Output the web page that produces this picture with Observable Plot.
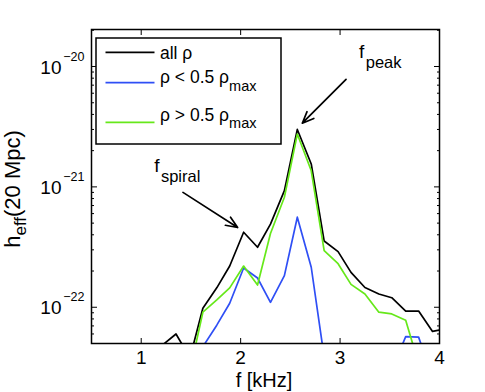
<!DOCTYPE html>
<html><head><meta charset="utf-8">
<script src="https://cdn.jsdelivr.net/npm/d3@7"></script>
<script src="https://cdn.jsdelivr.net/npm/@observablehq/plot@0.6"></script>
<style>body{margin:0;background:#fff;} svg{display:block;}</style>
</head><body><div id="chart"></div>
<script>
// frequency samples [kHz]
const freqs = [1.08, 1.22, 1.35, 1.49, 1.62, 1.76, 1.89, 2.03, 2.17, 2.30, 2.44, 2.57, 2.71, 2.84, 2.98, 3.11, 3.25, 3.39, 3.52, 3.66, 3.79, 3.93, 4.06];
// h_eff(20 Mpc), all densities
const hAll = [1e-23, 4.9e-23, 6.0e-23, 3.8e-23, 9.8e-23, 1.45e-22, 2.2e-22, 4.2e-22, 3.15e-22, 4.9e-22, 9.3e-22, 3.0e-21, 1.55e-21, 3.55e-22, 2.9e-22, 1.95e-22, 1.46e-22, 1.29e-22, 1.2e-22, 9.3e-23, 9.3e-23, 6.3e-23, 6.6e-23];
// rho < 0.5 rho_max
const hLow = [1e-23, 1e-23, 1e-23, 2.0e-23, 4.7e-23, 7.1e-23, 1.08e-22, 2.12e-22, 1.75e-22, 1.1e-22, 1.83e-22, 5.6e-22, 2.15e-22, 3.85e-23, 1e-23, 1e-23, 1e-23, 1e-23, 3.0e-23, 5.7e-23, 5.65e-23, 2.6e-23, 1e-23];
// rho > 0.5 rho_max
const hHigh = [1e-23, 2.0e-23, 2.5e-23, 2.95e-23, 9.1e-23, 1.15e-22, 1.45e-22, 2.2e-22, 1.53e-22, 4.1e-22, 8.2e-22, 2.75e-21, 1.36e-21, 2.95e-22, 2.3e-22, 1.55e-22, 1.29e-22, 9.1e-23, 8.8e-23, 7.8e-23, 3.4e-23, 2.8e-23, 7.9e-23];

const seriesNames = ["all ρ", "ρ < 0.5 ρ", "ρ > 0.5 ρ"];
const seriesSubs = ["", "max", "max"];
const seriesColors = ["#000000", "#2f4ff5", "#66e81a"];

const xTicks = [1, 2, 3, 4];
const xTickLabels = ["1", "2", "3", "4"];
const yTicks = [1e-22, 1e-21, 1e-20];
const yTickExps = ["−22", "−21", "−20"];
const yMinorTicks = [5e-23, 6e-23, 7e-23, 8e-23, 9e-23, 2e-22, 3e-22, 4e-22, 5e-22, 6e-22, 7e-22, 8e-22, 9e-22, 2e-21, 3e-21, 4e-21, 5e-21, 6e-21, 7e-21, 8e-21, 9e-21, 2e-20];

// annotations (data coordinates)
const annArrows = [
  {x1: 3.06, y1: 7.83e-21, x2: 2.62, y2: 3.38e-21},
  {x1: 1.42, y1: 9.0e-22, x2: 1.97, y2: 4.6e-22}
];
const annTexts = [
  {x: 3.195, y: 1.17e-20, base: "f", sub: "peak"},
  {x: 1.135, y: 1.32e-21, base: "f", sub: "spiral"}
];

const series = [hAll, hLow, hHigh];
const rows = (vals) => freqs.map((f, i) => ({f, h: vals[i]}));

const font = "'Liberation Sans', Arial, Helvetica, sans-serif";
const plot = Plot.plot({
  width: 485, height: 392,
  marginLeft: 91, marginRight: 46, marginTop: 29, marginBottom: 49,
  style: {fontFamily: font, background: "white", color: "black"},
  x: {domain: [0.5, 4]},
  y: {type: "log", domain: [5e-23, 2.03e-20]},
  marks: [
    ...series.map((s, i) => Plot.line(rows(s), {x: "f", y: "h", stroke: seriesColors[i], strokeWidth: 1.7, clip: true})),
    Plot.arrow(annArrows, {x1: "x1", y1: "y1", x2: "x2", y2: "y2", stroke: "black", strokeWidth: 1.7, headLength: 11, headAngle: 45, bend: 0}),
    Plot.frame({stroke: "black", strokeWidth: 1.5}),
    Plot.axisX({anchor: "bottom", ticks: xTicks, tickSize: -5, tickFormat: () => "", label: null}),
    Plot.axisX({anchor: "top", ticks: xTicks, tickSize: -5, tickFormat: () => "", label: null}),
    Plot.axisX({anchor: "bottom", ticks: xTicks, tickSize: 0, tickPadding: 7, fontSize: 19, tickFormat: (d) => xTickLabels[xTicks.indexOf(d)], label: null}),
    Plot.axisY({anchor: "left", ticks: yTicks, tickSize: -6, tickFormat: () => "", label: null}),
    Plot.axisY({anchor: "right", ticks: yTicks, tickSize: -6, tickFormat: () => "", label: null}),
    Plot.axisY({anchor: "left", ticks: yMinorTicks, tickSize: -3, tickFormat: () => "", label: null}),
    Plot.axisY({anchor: "right", ticks: yMinorTicks, tickSize: -3, tickFormat: () => "", label: null}),
    Plot.axisY({anchor: "left", ticks: yTicks, tickSize: 0, tickPadding: 30, fontSize: 19, tickFormat: () => "10", label: null, dy: 1}),
    Plot.axisY({anchor: "left", ticks: yTicks, tickSize: 0, tickPadding: 7, fontSize: 12.5, tickFormat: (d) => yTickExps[yTicks.indexOf(d)], label: null, dy: -10})
  ]
});
document.getElementById("chart").appendChild(plot);

const svg = d3.select(plot);
const sx = plot.scale("x"), sy = plot.scale("y");

// annotation labels with subscripts
annTexts.forEach((a) => {
  const t = svg.append("text")
    .attr("x", sx.apply(a.x)).attr("y", sy.apply(a.y)).attr("text-anchor", "start")
    .attr("font-family", font).attr("font-size", 19).attr("fill", "black");
  t.append("tspan").text(a.base);
  t.append("tspan").attr("dx", 1.5).attr("dy", 10.6).attr("font-size", 16.5).text(a.sub);
});

// axis labels
svg.append("text").attr("x", 264).attr("y", 387).attr("text-anchor", "middle")
  .attr("font-family", font).attr("font-size", 20).attr("fill", "black").text("f [kHz]");
const yl = svg.append("text").attr("transform", "translate(19.5,189) rotate(-90)")
  .attr("text-anchor", "middle").attr("font-family", font).attr("font-size", 22).attr("fill", "black");
yl.append("tspan").text("h");
yl.append("tspan").attr("dy", 6).attr("font-size", 17).text("eff");
yl.append("tspan").attr("dy", -6).text("(20 Mpc)");

// legend
const lg = svg.append("g");
lg.append("rect").attr("x", 96).attr("y", 38).attr("width", 185).attr("height", 106)
  .attr("fill", "white").attr("stroke", "black").attr("stroke-width", 1.5);
const lineY = [52.3, 82.7, 122.3];
const textY = [59.3, 83.3, 120.7];
seriesNames.forEach((name, i) => {
  lg.append("line").attr("x1", 105.5).attr("x2", 154.5).attr("y1", lineY[i]).attr("y2", lineY[i])
    .attr("stroke", seriesColors[i]).attr("stroke-width", 1.7);
  const t = lg.append("text").attr("x", 160).attr("y", textY[i]).attr("text-anchor", "start")
    .attr("font-family", font).attr("font-size", 17.5).attr("fill", "black");
  t.append("tspan").text(name);
  if (seriesSubs[i]) t.append("tspan").attr("dy", 7.3).attr("font-size", 14.5).text(seriesSubs[i]);
});
</script>
</body></html>
